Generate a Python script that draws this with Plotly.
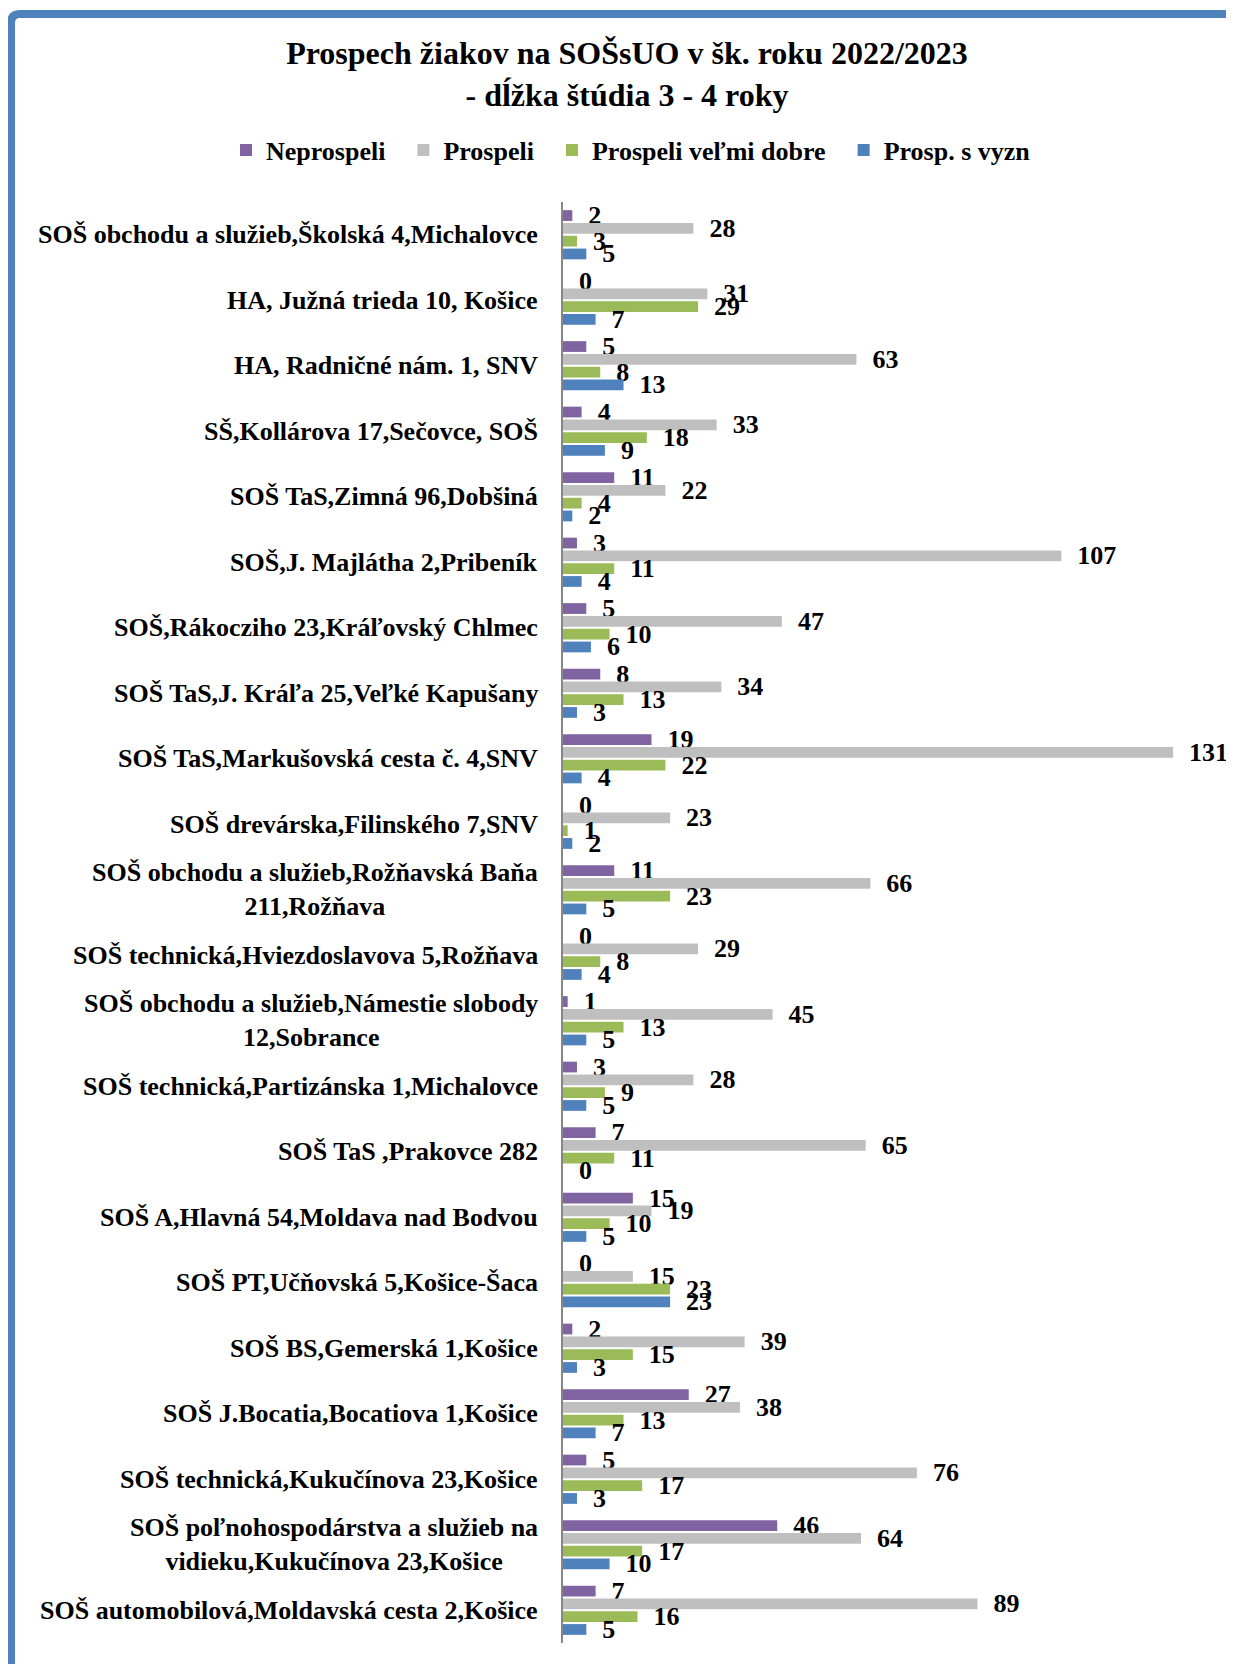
import plotly.graph_objects as go

categories = [
    "SOŠ obchodu a služieb,Školská 4,Michalovce",
    "HA, Južná trieda 10, Košice",
    "HA, Radničné nám. 1, SNV",
    "SŠ,Kollárova 17,Sečovce, SOŠ",
    "SOŠ TaS,Zimná 96,Dobšiná",
    "SOŠ,J. Majlátha 2,Pribeník",
    "SOŠ,Rákocziho 23,Kráľovský Chlmec",
    "SOŠ TaS,J. Kráľa 25,Veľké Kapušany",
    "SOŠ TaS,Markušovská cesta č. 4,SNV",
    "SOŠ drevárska,Filinského 7,SNV",
    "SOŠ obchodu a služieb,Rožňavská Baňa<br>211,Rožňava",
    "SOŠ technická,Hviezdoslavova 5,Rožňava",
    "SOŠ obchodu a služieb,Námestie slobody<br>12,Sobrance",
    "SOŠ technická,Partizánska 1,Michalovce",
    "SOŠ TaS ,Prakovce 282",
    "SOŠ A,Hlavná 54,Moldava nad Bodvou",
    "SOŠ PT,Učňovská 5,Košice-Šaca",
    "SOŠ BS,Gemerská 1,Košice",
    "SOŠ J.Bocatia,Bocatiova 1,Košice",
    "SOŠ technická,Kukučínova 23,Košice",
    "SOŠ poľnohospodárstva a služieb na<br>vidieku,Kukučínova 23,Košice",
    "SOŠ automobilová,Moldavská cesta 2,Košice",
]

neprospeli = [2, 0, 5, 4, 11, 3, 5, 8, 19, 0, 11, 0, 1, 3, 7, 15, 0, 2, 27, 5, 46, 7]
prospeli = [28, 31, 63, 33, 22, 107, 47, 34, 131, 23, 66, 29, 45, 28, 65, 19, 15, 39, 38, 76, 64, 89]
velmi_dobre = [3, 29, 8, 18, 4, 11, 10, 13, 22, 1, 23, 8, 13, 9, 11, 10, 23, 15, 13, 17, 17, 16]
s_vyzn = [5, 7, 13, 9, 2, 4, 6, 3, 4, 2, 5, 4, 5, 5, 0, 5, 23, 3, 7, 3, 10, 5]

series_names = ["Neprospeli", "Prospeli", "Prospeli veľmi dobre", "Prosp. s vyzn"]
series_values = [neprospeli, prospeli, velmi_dobre, s_vyzn]
colors = ["#8064A2", "#BFBFBF", "#9BBB59", "#4F81BD"]

title_lines = ["Prospech žiakov na SOŠsUO v šk. roku 2022/2023", "- dĺžka štúdia 3 - 4 roky"]

# page has an 8px body margin; positions below are figure pixels
O = 8
W, H = 1234 - O, 1664 - O
L, T = 563 - O, 202 - O
B = H - (1643 - O)
R = 19
PW, PH = W - L - R, H - T - B
FONT = "'Liberation Serif', 'Times New Roman', Tinos, serif"

fig = go.Figure()
for i, (name, vals, col) in enumerate(zip(series_names, series_values, colors)):
    pad = "  " if i < len(series_names) - 1 else ""
    fig.add_trace(go.Bar(
        name="<b>" + name + "</b>" + pad, y=categories, x=vals, orientation="h",
        marker=dict(color=col, line=dict(width=0)),
        texttemplate="  <b>%{x}</b>", textposition="outside", textangle=0,
        constraintext="none", cliponaxis=False,
        textfont=dict(family=FONT, size=26, color="black"),
    ))

for cat in categories:
    fig.add_annotation(
        x=0, xref="paper", y=cat, yref="y", xanchor="right", yanchor="middle",
        xshift=-23, text="<b>" + cat.replace("<br>", "</b><br><b>") + "</b>",
        showarrow=False, align="center",
        font=dict(family=FONT, size=26, color="black"),
    )

def px(xp):
    return (xp - O - L) / PW

def py(yp):
    return (H - B - (yp - O)) / PH

r = 9
path = (f"M {px(1300)} {py(14)} L {px(11 + r)} {py(14)} "
        f"Q {px(11)} {py(14)} {px(11)} {py(14 + r)} L {px(11)} {py(1720)}")
fig.add_shape(type="path", xref="paper", yref="paper", path=path,
              line=dict(color="#4F81BD", width=8))

fig.update_layout(
    width=W, height=H,
    margin=dict(l=L, r=R, t=T, b=B, autoexpand=False),
    paper_bgcolor="white", plot_bgcolor="white",
    barmode="group", bargap=0.218, bargroupgap=0.16,
    title=dict(text="<br>".join("<b>" + t + "</b>" for t in title_lines),
               x=(627 - O) / W, xref="container", xanchor="center",
               y=1 - (64 - O) / H, yref="container", yanchor="top",
               font=dict(family=FONT, size=32, color="black")),
    legend=dict(orientation="h", x=px(226), xref="paper", xanchor="left",
                y=py(150), yanchor="middle",
                font=dict(family=FONT, size=26, color="black"),
                itemwidth=30, bgcolor="rgba(0,0,0,0)"),
    xaxis=dict(range=[0, 140], visible=False, showgrid=False, zeroline=False),
    yaxis=dict(autorange="reversed", showticklabels=False, ticks="", showgrid=False,
               showline=True, linecolor="#868686", linewidth=2, zeroline=False),
    showlegend=True,
)

fig.write_html("out.html")
